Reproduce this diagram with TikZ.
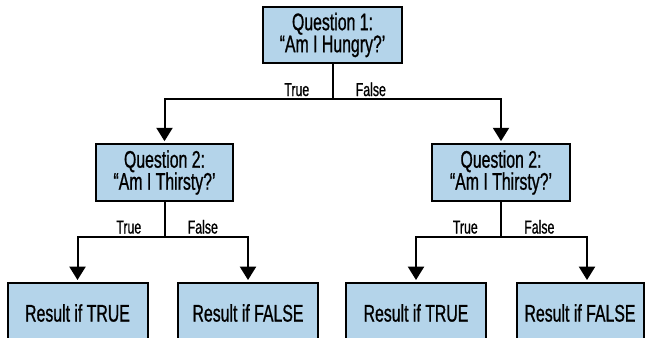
\documentclass[tikz,border=0pt]{standalone}
\usepackage{fontspec}
\setmainfont{Liberation Sans}[FakeStretch=0.66,FakeBold=0.8]
\usetikzlibrary{arrows.meta}
\definecolor{boxblue}{RGB}{180,212,234}
\tikzset{
  qbox/.style={draw,line width=1.5pt,fill=boxblue,align=center,inner sep=2pt,
    minimum width=103pt,minimum height=42.5pt,font=\fontsize{18}{16.5}\selectfont},
  rbox/.style={qbox,minimum width=105pt,minimum height=45pt},
  link/.style={line width=1.5pt,-{Triangle[length=10pt,width=12pt]},shorten >=1.5pt},
  branch/.style={inner sep=0pt,font=\fontsize{14}{14}\selectfont},
}

\begin{document}
\begin{tikzpicture}[x=0.75pt,y=-0.75pt]
  \clip (0,0) rectangle (645,337);
  % questions
  \node[qbox,minimum width=104pt] (q1) at (332.5,35) {Question 1:\\“Am I Hungry?’};
  \node[qbox] (q2t) at (164.5,172.5) {Question 2:\\“Am I Thirsty?’};
  \node[qbox] (q2f) at (501,172.5) {Question 2:\\“Am I Thirsty?’};
  % results
  \node[rbox] (rtt) at (77.5,313) {Result if TRUE};
  \node[rbox] (rtf) at (248,313) {Result if FALSE};
  \node[rbox] (rft) at (416,313) {Result if TRUE};
  \node[rbox,minimum width=95.25pt] (rff) at (580,313) {Result if FALSE};
  % split points
  \coordinate (s1) at (332.5,99);
  \coordinate (s2) at (164.5,236.5);
  \coordinate (s3) at (501,236.5);
  % connectors
  \draw[link] (q1) -- (s1) -| (q2t);
  \draw[link] (s1) -| (q2f);
  \draw[link] (q2t) -- (s2) -| (rtt);
  \draw[link] (s2) -| (rtf);
  \draw[link] (q2f) -- (s3) -| (rft);
  \draw[link] (s3) -| ([xshift=5.25pt]rff.north);
  % branch labels
  \node[branch,anchor=base east] (t1) at ([shift={(-23,-3)}]s1) {True};
  \node[branch,anchor=base west] (f1) at ([shift={(23,-3)}]s1) {False};
  \node[branch,anchor=base east] (t2) at ([shift={(-23,-3)}]s2) {True};
  \node[branch,anchor=base west] (f2) at ([shift={(23,-3)}]s2) {False};
  \node[branch,anchor=base east] (t3) at ([shift={(-23,-3)}]s3) {True};
  \node[branch,anchor=base west] (f3) at ([shift={(23,-3)}]s3) {False};
\end{tikzpicture}
\end{document}
